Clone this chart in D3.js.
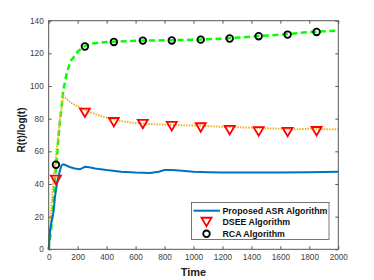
<!DOCTYPE html>
<html><head><meta charset="utf-8">
<script src="https://cdn.jsdelivr.net/npm/d3@7"></script>
<style>body{margin:0;background:#fff;} svg{display:block;font-family:"Liberation Sans",Arial,sans-serif;}</style>
</head><body><svg id="c" width="374" height="280"></svg>
<script>
// Data
const xTicks = [0,200,400,600,800,1000,1200,1400,1600,1800,2000];
const yTicks = [0,20,40,60,80,100,120,140];
const asrT = [0,10,20,27,35,43,55,66,80,90,100,112,130,150,180,216,250,280,320,400,500,600,700,760,800,850,900,1000,1100,1200,1400,1600,1800,1900,2000];
const asrV = [0,12,17,20,24,32,39,44,49,51.5,52,51.8,51,50.2,49.5,49,50.5,50.2,49.5,48.5,47.5,47,46.7,47.5,48.5,48.6,48.2,47.5,47.2,47,47,47,47.2,47.4,47.5];
const dseeT = [0,10,20,30,50,75,100,150,200,250,300,400,500,600,700,800,1000,1200,1400,1600,1700,1800,2000];
const dseeV = [0,12,28,40,57,77,94,90,87.5,85.5,83.5,80.5,78.5,77.3,76.7,76.3,75.8,75,74.5,73.8,73.5,73.8,73.4];
const rcaT = [0,20,40,50,60,75,90,100,125,150,200,250,300,400,600,800,1000,1200,1400,1600,1800,2000];
const rcaV = [0,15,38,50,60,76,88,97,108,115,121,124.5,126,127,127.7,128,128.3,129,130.2,131.5,133,134];
const markT = [50,250,450,650,850,1050,1250,1450,1650,1850];
const dseeMark = [42.5,83.6,77.8,76.7,75.4,74.6,73,72.2,71.8,72.3];
const rcaMark = [51.8,124.2,127,127.8,127.9,128.4,129.1,130.5,131.5,133.1];
const legendLabels = ["Proposed ASR Algorithm","DSEE Algorithm","RCA Algorithm"];

const svg = d3.select("#c");
const L=48.7, R=338.3, T=20.7, B=249.3;
const x = d3.scaleLinear().domain([0,2000]).range([L,R]);
const y = d3.scaleLinear().domain([0,140]).range([B,T]);
const axCol = "#555", txtCol="#404040";

// lines
const line = (ts,vs)=>d3.line().x((d,i)=>x(ts[i])).y((d,i)=>y(vs[i]))(vs);
const g = svg.append("g");
g.append("path").attr("d",line(rcaT,rcaV)).attr("fill","none").attr("stroke","#00ff00").attr("stroke-width",2.5).attr("stroke-dasharray","6,3.5");
g.append("path").attr("d",line(dseeT,dseeV)).attr("fill","none").attr("stroke","#EDB120").attr("stroke-width",2).attr("stroke-dasharray","1.5,1.2");
g.append("path").attr("d",line(asrT,asrV)).attr("fill","none").attr("stroke","#0072BD").attr("stroke-width",2);

const tri = (cx,cy,s)=>`M${cx-s},${cy-s*0.85}L${cx+s},${cy-s*0.85}L${cx},${cy+s*0.85}Z`;
g.selectAll(".tri").data(dseeMark).enter().append("path")
  .attr("d",(d,i)=>tri(x(markT[i]),y(d),5)).attr("fill","none").attr("stroke","#ff0000").attr("stroke-width",1.8);
g.selectAll(".cir").data(rcaMark).enter().append("circle")
  .attr("cx",(d,i)=>x(markT[i])).attr("cy",d=>y(d)).attr("r",3.3).attr("fill","none").attr("stroke","#000").attr("stroke-width",1.8);

// axes box
svg.append("rect").attr("x",L).attr("y",T).attr("width",R-L).attr("height",B-T).attr("fill","none").attr("stroke",axCol).attr("stroke-width",1);
const fmt = d3.format("d");
const xb = d3.axisBottom(x).tickValues(xTicks).tickSize(-3).tickPadding(5).tickFormat(fmt);
const yl = d3.axisLeft(y).tickValues(yTicks).tickSize(-3).tickPadding(5).tickFormat(fmt);
svg.append("g").attr("transform",`translate(0,${B})`).call(xb);
svg.append("g").attr("transform",`translate(${L},0)`).call(yl);
svg.append("g").attr("transform",`translate(0,${T})`).call(d3.axisTop(x).tickValues(xTicks).tickSize(-3).tickFormat(""));
svg.append("g").attr("transform",`translate(${R},0)`).call(d3.axisRight(y).tickValues(yTicks).tickSize(-3).tickFormat(""));
svg.selectAll(".domain").remove();
svg.selectAll(".tick line").attr("stroke",axCol);
svg.selectAll(".tick text").attr("fill",txtCol).style("font-size","8.2px").style("font-family","'Liberation Sans',Arial,sans-serif");

// labels
svg.append("text").attr("x",193.5).attr("y",276).attr("text-anchor","middle").style("font-weight","bold").style("font-size","11px").attr("fill","#222").text("Time");
svg.append("text").attr("transform","translate(25,130) rotate(-90)").attr("text-anchor","middle").style("font-weight","bold").style("font-size","10px").attr("fill","#222").text("R(t)/log(t)");

// legend
const lg = svg.append("g");
lg.append("rect").attr("x",191.5).attr("y",202.5).attr("width",137.5).attr("height",37).attr("fill","#fff").attr("stroke",axCol).attr("stroke-width",0.8);
const rows=[210.7,222,233.8];
lg.append("line").attr("x1",193.5).attr("x2",220).attr("y1",rows[0]).attr("y2",rows[0]).attr("stroke","#0072BD").attr("stroke-width",2);
lg.append("path").attr("d",tri(206.5,rows[1],5)).attr("fill","none").attr("stroke","#ff0000").attr("stroke-width",1.8);
lg.append("circle").attr("cx",206.5).attr("cy",rows[2]).attr("r",3.3).attr("fill","none").attr("stroke","#000").attr("stroke-width",1.8);
lg.selectAll(".lt").data(legendLabels).enter().append("text")
  .attr("x",222.5).attr("y",(d,i)=>rows[i]+3.2).style("font-weight","bold").style("font-size","8.8px").attr("fill","#111").text(d=>d);
</script></body></html>
